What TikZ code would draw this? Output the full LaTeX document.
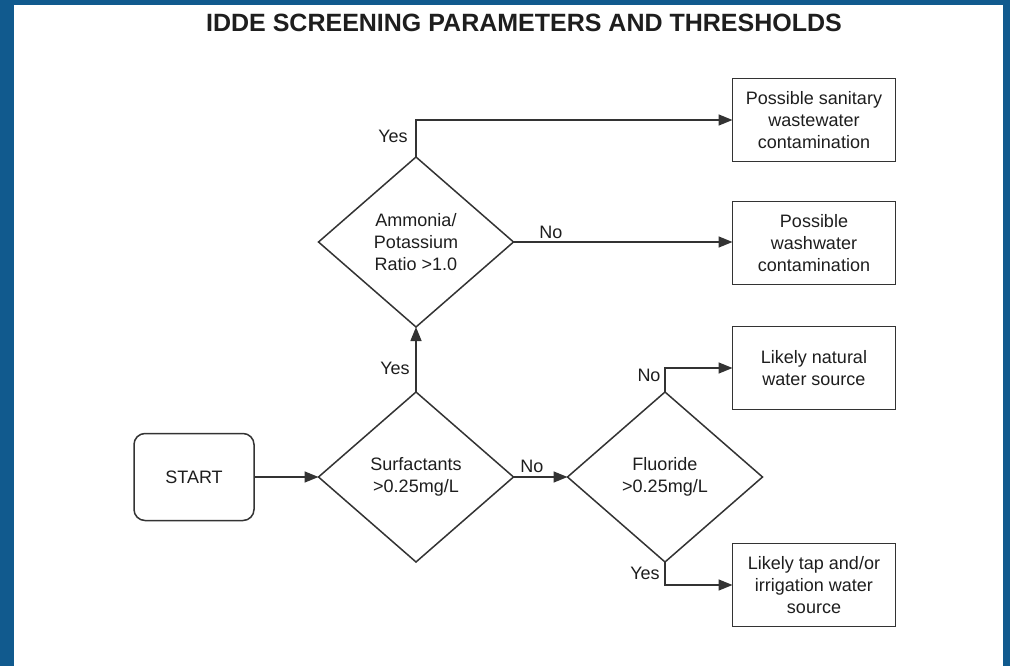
\documentclass[tikz,border=0pt]{standalone}
\usepackage{fontspec}
\setmainfont{Liberation Sans}
\usetikzlibrary{shapes.geometric,arrows.meta}
\definecolor{frameblue}{HTML}{115A8E}
\definecolor{linegray}{HTML}{333333}
\definecolor{txt}{HTML}{1E1E1E}
\begin{document}
\begin{tikzpicture}[x=1pt,y=-1pt,
  every node/.style={text=txt},
  lbl/.style={font=\fontsize{18}{22}\selectfont, inner sep=0pt},
  startbox/.style={draw=linegray, line width=1.5pt, rounded corners=11pt, minimum width=120pt, minimum height=87pt, font=\fontsize{18}{22}\selectfont, outer sep=0pt},
  decision/.style={draw=linegray, line width=1.5pt, diamond, inner sep=0pt, outer sep=0pt, minimum width=195pt, minimum height=170pt, align=center, font=\fontsize{18}{22}\selectfont},
  resultbox/.style={draw=linegray, line width=1.5pt, minimum width=163pt, minimum height=83pt, align=center, outer sep=0pt, font=\fontsize{18}{22}\selectfont},
  conn/.style={draw=linegray, line width=1.5pt, -{Triangle[length=14pt,width=11pt]}}
]
\useasboundingbox (0,0) rectangle (1010,666);
\fill[frameblue] (0,0) rectangle (1010,666);
\fill[white] (14,5) rectangle (1003,666);

\node[font=\fontsize{25}{29}\selectfont\bfseries, inner sep=0pt] (title) at (524,23) {IDDE SCREENING PARAMETERS AND THRESHOLDS};

\node[startbox] (start) at (194,477) {START};
\node[decision] (surf) at (416,477) {Surfactants\\>0.25mg/L};
\node[decision] (fluor) at (665,477) {Fluoride\\>0.25mg/L};
\node[decision] (amm) at (416,242) {Ammonia/\\Potassium\\Ratio >1.0};

\node[resultbox] (san) at (814,120) {Possible sanitary\\wastewater\\contamination};
\node[resultbox] (wash) at (814,243) {Possible\\washwater\\contamination};
\node[resultbox] (nat) at (814,368) {Likely natural\\water source};
\node[resultbox] (tap) at (814,585) {Likely tap and/or\\irrigation water\\source};

\draw[conn] (start.east) -- (surf.west);
\draw[conn] (surf.east) -- (fluor.west);
\draw[conn] (surf.north) -- (amm.south);
\draw[conn] (amm.north) |- (san.west);
\draw[conn] (amm.east) -- (amm.east -| wash.west);
\draw[conn] (fluor.north) |- (nat.west);
\draw[conn] (fluor.south) |- (tap.west);

\node[lbl] (l1) at (532,466) {No};
\node[lbl] (l2) at (395,368) {Yes};
\node[lbl] (l3) at (393,136) {Yes};
\node[lbl] (l4) at (551,232) {No};
\node[lbl] (l5) at (649,375) {No};
\node[lbl] (l6) at (645,573) {Yes};
\end{tikzpicture}
\end{document}
